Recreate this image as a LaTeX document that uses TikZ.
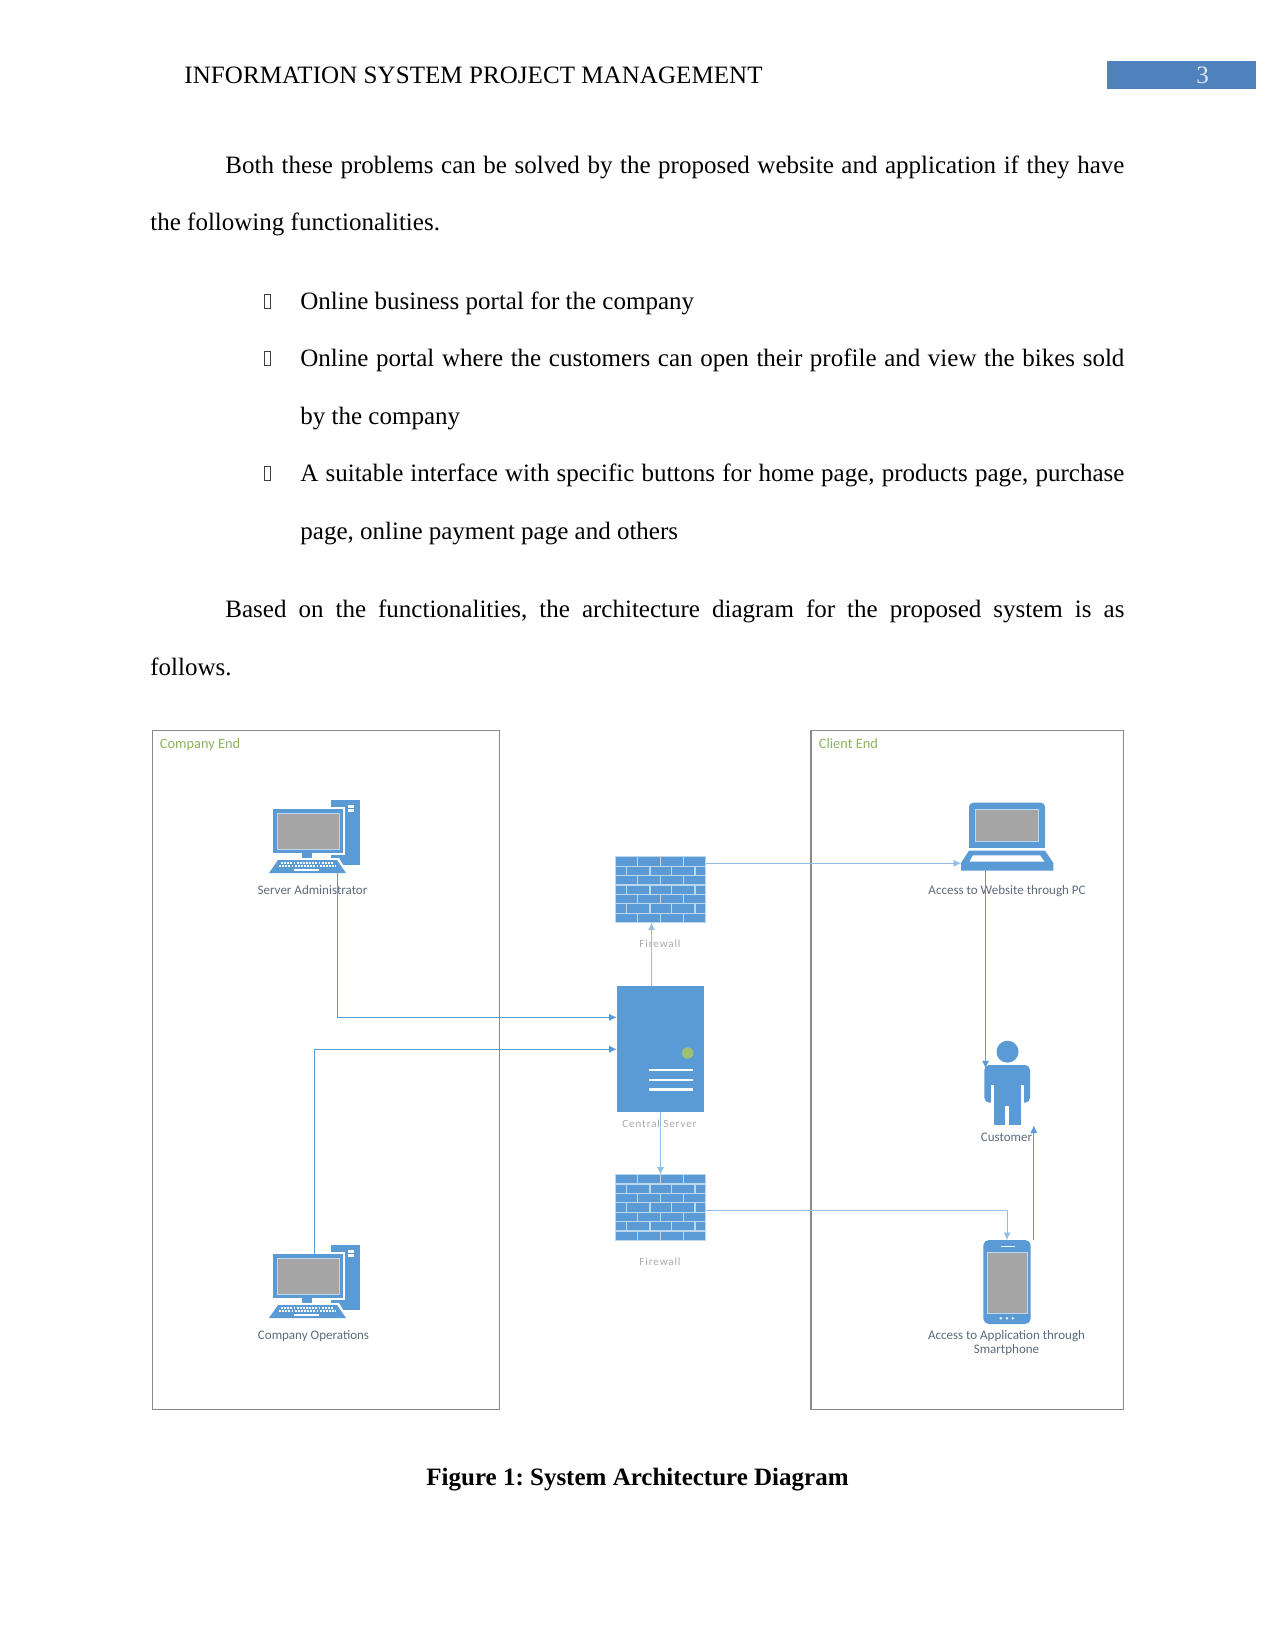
\documentclass[tikz,border=0pt]{standalone}
\usepackage{fontspec}
\setmainfont{Liberation Serif}
\newfontfamily\lab{Carlito}
\newfontfamily\labw[LetterSpace=8]{Carlito}
\usetikzlibrary{arrows.meta}
\definecolor{iconblue}{HTML}{5B9BD5}
\definecolor{linkblue}{HTML}{5B9BD5}
\definecolor{headblue}{HTML}{4F81BD}
\definecolor{scr}{HTML}{A5A5A5}
\definecolor{edge}{HTML}{BDD7EE}
\definecolor{frameg}{HTML}{8A8A8A}
\definecolor{endg}{HTML}{8DB55C}
\definecolor{labd}{HTML}{5E6B7C}
\definecolor{labl}{HTML}{A8A8A8}
\newcommand{\pxs}{0.48pt}
\tikzset{
  x=0.48pt,y=-0.48pt,
  body/.style={anchor=base west,inner sep=0pt,font=\fontsize{12}{14}\selectfont\frenchspacing,text=black},
  tofu/.style={draw=black!75,line width=0.35pt,minimum width=6.5*\pxs,minimum height=14*\pxs,inner sep=0pt,anchor=north west},
  endframe/.style={draw=frameg,line width=0.55pt,fill=white,anchor=north west,inner sep=0pt},
  endlabel/.style={anchor=base west,inner sep=0pt,text=endg,font=\fontsize{6.9}{8}\selectfont\lab},
  darklabel/.style={anchor=base,inner sep=0pt,text=labd,font=\fontsize{6.25}{8}\selectfont\lab},
  lightlabel/.style={anchor=base,inner sep=0pt,text=labl,font=\fontsize{5.3}{8}\selectfont\labw},
  iconbox/.style={inner sep=0pt,outer sep=0pt},
  solidbox/.style={inner sep=0pt,outer sep=0pt,fill=iconblue},
  link/.style={draw=linkblue,line width=0.4pt,-{Latex[length=3.6pt,width=3.4pt]}},
  linkfaint/.style={draw=linkblue!65,line width=0.36pt,-{Latex[length=3.6pt,width=3.4pt]}},
  wall/.style={draw=edge,line width=0.6pt},
}
% desktop computer, drawn at the position of the Server Administrator
\newcommand{\desktopicon}{%
  \fill[iconblue] (330.7,800) rectangle (360,865);
  \fill[white] (348,805) rectangle (354,807.5);
  \fill[white] (348,809) rectangle (354,811.5);
  \fill[white] (270.7,807) rectangle (345,855);
  \fill[iconblue] (272.7,809) rectangle (343,853);
  \fill[scr] (277,813) rectangle (339,849);
  \draw[edge,line width=0.4pt] (277,813) rectangle (339,849);
  \fill[iconblue] (302,853) rectangle (312,859);
  \fill[white] (276,858) -- (339,858) -- (349,875) -- (266,875) -- cycle;
  \fill[iconblue] (278,860) -- (337,860) -- (346,873) -- (269,873) -- cycle;
  \draw[white,line width=0.8pt,dash pattern=on 0.9pt off 0.6pt] (281,862.7) -- (334,862.7);
  \draw[white,line width=0.8pt,dash pattern=on 0.9pt off 0.6pt] (279,866) -- (336,866);
  \fill[white] (294,868.5) rectangle (319,871);
}
\newcommand{\wallicon}{%
  \fill[iconblue] (615.7,0) rectangle (705.7,66);
  \foreach \r in {1,...,6} \draw[wall] (615.7,{\r*66/7}) -- (705.7,{\r*66/7});
  \foreach \r in {0,2,4,6} \foreach \c in {637.7,660.7,683.7}
    \draw[wall] (\c,{\r*66/7}) -- (\c,{(\r+1)*66/7});
  \foreach \r in {1,3,5} \foreach \c in {626.7,650,671.7,695}
    \draw[wall] (\c,{\r*66/7}) -- (\c,{(\r+1)*66/7});
  \draw[wall] (615.7,0) rectangle (705.7,66);
}
\begin{document}
\begin{tikzpicture}
\useasboundingbox[fill=white] (0,0) rectangle (1275,1650);

% page header
\node[body] (hdr) at (184,84) {\addfontfeature{LetterSpace=0.3}INFORMATION SYSTEM PROJECT MANAGEMENT};
\node[inner sep=0pt,outer sep=0pt,fill=headblue,minimum width=149.5*\pxs,minimum height=27.5*\pxs] (pg) at (1181.5,75.2) {};
\node[anchor=base,inner sep=0pt,text=white!80!headblue,font=\fontsize{12}{14}\selectfont] (pgn) at (1202.5,84) {3};

% body text
\node[body] (l1) at (225,173.5) {\makebox[431.5pt][s]{Both these problems can be solved by the proposed website and application if they have}};
\node[body] (l2) at (150,230.5) {the following functionalities.};
\node[tofu] (b1) at (263.5,294) {};
\node[body] (i1) at (300,309.5) {Online business portal for the company};
\node[tofu] (b2) at (263.5,351) {};
\node[body] (i2) at (300,366.5) {\makebox[395.5pt][s]{Online portal where the customers can open their profile and view the bikes sold}};
\node[body] (i2b) at (300,424.5) {by the company};
\node[tofu] (b3) at (263.5,466) {};
\node[body] (i3) at (300,481.5) {\makebox[395.5pt][s]{A suitable interface with specific buttons for home page, products page, purchase}};
\node[body] (i3b) at (300,539) {page, online payment page and others};
\node[body] (l3) at (225,617.5) {\makebox[431.5pt][s]{Based on the functionalities, the architecture diagram for the proposed system is as}};
\node[body] (l4) at (150,675) {follows.};

% end frames
\node[endframe,minimum width=347.8*\pxs,minimum height=678.5*\pxs] (co) at (151.5,730) {};
\node[endframe,minimum width=312.1*\pxs,minimum height=678.5*\pxs] (cl) at (810.4,730) {};
\node[endlabel] (col) at (159.5,748) {Company End};
\node[endlabel] (cll) at (818.5,748) {Client End};

% server administrator
\desktopicon
\node[iconbox,minimum width=91*\pxs,minimum height=73*\pxs] (sa) at (314.5,836.5) {};
\node[darklabel] (sal) at (312.5,894.5) {Server Administrator};

% company operations
\begin{scope}[shift={(0,445)}]
\desktopicon
\end{scope}
\node[iconbox,minimum width=91*\pxs,minimum height=73*\pxs] (cp) at (314.5,1281.5) {};
\coordinate (cpout) at (314.5,1254);
\node[darklabel] (cpl) at (313.5,1339.5) {Company Operations};

% firewalls and central server
\begin{scope}[shift={(0,856.7)}]\wallicon\end{scope}
\begin{scope}[shift={(0,1174.5)}]\wallicon\end{scope}
\node[iconbox,minimum width=90*\pxs,minimum height=66*\pxs] (fwa) at (660.7,889.7) {};
\node[iconbox,minimum width=90*\pxs,minimum height=66*\pxs] (fwb) at (660.7,1207.5) {};
\node[lightlabel] (fwal) at (660,947) {Firewall};
\node[lightlabel] (fwbl) at (660,1265.5) {Firewall};
\node[solidbox,minimum width=87.3*\pxs,minimum height=126*\pxs] (srv) at (660.3,1048.7) {};
\fill[endg!85!white] (687.7,1053) circle (5.7);
\foreach \yy in {1070,1080,1089.6} \draw[white,line width=1.4pt] (649.3,\yy) -- (692.7,\yy);
\node[lightlabel] (srvl) at (659.5,1127) {Central Server};

% laptop
\fill[iconblue,rounded corners=2pt] (969,847.7) -- (969,802.7) -- (1045,802.7) -- (1045,847.7) -- cycle;
\fill[iconblue] (969,847.7) rectangle (1045,835);
\fill[scr] (975.3,809.3) rectangle (1038.3,841);
\draw[edge,line width=0.4pt] (975.3,809.3) rectangle (1038.3,841);
\fill[iconblue] (969,850.7) -- (1045,850.7) -- (1053.3,863) -- (1053.3,870.7) -- (961,870.7) -- (961,863) -- cycle;
\fill[white] (973,855.3) -- (1040,855.3) -- (1044.5,861.7) -- (969.5,861.7) -- cycle;
\node[iconbox,minimum width=92.3*\pxs,minimum height=68*\pxs] (pc) at (1007.2,836.7) {};
\node[darklabel] (pcl) at (1007,894) {Access to Website through PC};

% customer
\fill[iconblue] (1007.5,1051.7) circle (11);
\fill[iconblue,rounded corners=2.4pt] (984.3,1102.7) -- (984.3,1065) -- (1030,1065) -- (1030,1102.7) -- cycle;
\fill[iconblue] (994,1095) rectangle (1020.7,1125);
\fill[white] (990.7,1085) rectangle (994,1103);
\fill[white] (1020.7,1085) rectangle (1024,1103);
\fill[white] (1005.3,1106) rectangle (1008.7,1126);
\node[iconbox,minimum width=45.7*\pxs,minimum height=85*\pxs] (cu) at (1007.2,1083) {};
\node[darklabel] (cul) at (1006.5,1141) {Customer};

% phone
\fill[iconblue,rounded corners=2.6pt] (983.3,1240) rectangle (1030.7,1324);
\fill[scr] (986.9,1252.3) rectangle (1027.8,1313.3);
\draw[edge,line width=0.4pt] (986.9,1252.3) rectangle (1027.8,1313.3);
\draw[white,line width=0.4pt] (1001,1246) -- (1015,1246);
\foreach \xx in {1000.7,1007,1012.7} \fill[white] (\xx,1318.3) circle (1.3);
\node[iconbox,minimum width=47.4*\pxs,minimum height=84*\pxs] (ph) at (1007,1282) {};
\node[darklabel] (phl) at (1006.5,1339.5) {Access to Application through};
\node[darklabel] (phl2) at (1006.5,1353.5) {Smartphone};

% connectors
\draw[link] (337.3,0 |- sa.south) |- (srv.west |- 0,1017.3);
\draw[link] (cpout) |- (srv.west |- 0,1049.2);
\draw[linkfaint] (651.5,0 |- srv.north) -- (651.5,0 |- fwa.south);
\draw[linkfaint] (660.5,0 |- srv.south) -- (660.5,0 |- fwb.north);
\draw[linkfaint] (fwa.east |- 0,863.3) -- (pc.west |- 0,863.3);
\draw[linkfaint] (fwb.east |- 0,1210) -| (ph.north);
\draw[link] (985.5,0 |- pc.south) -- (985.5,1068.3);
\draw[link] (1033.8,0 |- ph.north) -- (1033.8,0 |- cu.south);

% caption
\node[anchor=base,inner sep=0pt,font=\fontsize{12}{14}\selectfont\bfseries\frenchspacing] (cap) at (637.5,1485) {Figure 1: System Architecture Diagram};
\end{tikzpicture}
\end{document}
